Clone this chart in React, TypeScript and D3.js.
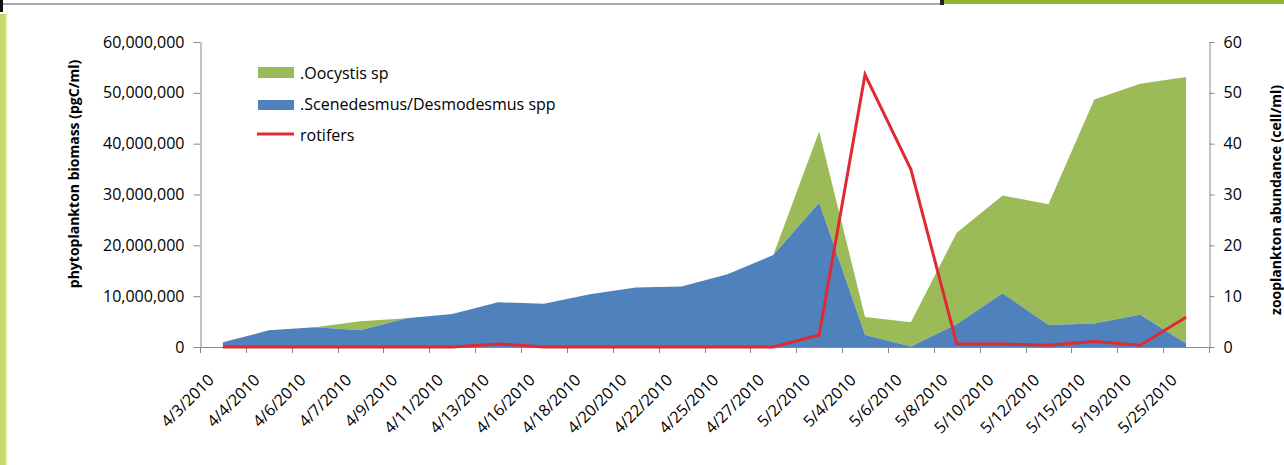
import React, { useEffect, useRef } from "react";
import * as d3 from "d3";

const dates = [
  "4/3/2010", "4/4/2010", "4/6/2010", "4/7/2010", "4/9/2010", "4/11/2010",
  "4/13/2010", "4/16/2010", "4/18/2010", "4/20/2010", "4/22/2010", "4/25/2010",
  "4/27/2010", "5/2/2010", "5/4/2010", "5/6/2010", "5/8/2010", "5/10/2010",
  "5/12/2010", "5/15/2010", "5/19/2010", "5/25/2010",
];
const scenedesmus = [
  0.92e6, 3.28e6, 3.87e6, 3.28e6, 5.64e6, 6.5e6, 8.8e6, 8.5e6, 10.4e6, 11.7e6, 11.9e6,
  14.3e6, 18.1e6, 28.4e6, 2.36e6, 0.1e6, 4.46e6, 10.55e6, 4.33e6, 4.6e6, 6.36e6, 0.7e6,
];
const oocystis = [
  0, 0, 0, 1.77e6, 0, 0, 0, 0, 0, 0, 0, 0, 0, 14.0e6, 3.54e6, 4.75e6, 18.04e6, 19.25e6,
  23.77e6, 44.1e6, 45.44e6, 52.4e6,
];
const rotifers = [
  0, 0, 0, 0, 0, 0, 0.6, 0, 0, 0, 0, 0, 0, 2.36, 53.6, 34.96, 0.6, 0.6, 0.33, 1.1, 0.33, 5.84,
];
const leftTicks = [0, 10e6, 20e6, 30e6, 40e6, 50e6, 60e6];
const rightTicks = [0, 10, 20, 30, 40, 50, 60];
const legendItems = [".Oocystis sp", ".Scenedesmus/Desmodesmus spp", "rotifers"];
const leftTitle = "phytoplankton biomass (pgC/ml)";
const rightTitle = "zooplankton abundance (cell/ml)";

const W = 1284;
const H = 465;
const FONT = "'Open Sans', 'DejaVu Sans', sans-serif";
const BLUE = "#4f81bd";
const GREEN = "#9bbb59";
const RED = "#e02a33";
const AXIS = "#898989";

export default function App() {
  const ref = useRef<SVGSVGElement | null>(null);

  useEffect(() => {
    const svg = d3.select(ref.current);
    svg.selectAll("*").remove();

    const left = 200, right = 1209, top = 42, bottom = 347;

    // slide decoration
    svg.append("rect").attr("x", 0).attr("y", 0).attr("width", W).attr("height", H).attr("fill", "#fff");
    svg.append("rect").attr("x", 0).attr("y", 3).attr("width", 940).attr("height", 2).attr("fill", "#a9a9a9");
    svg.append("rect").attr("x", 940).attr("y", 0).attr("width", 4).attr("height", 5).attr("fill", "#222");
    svg.append("rect").attr("x", 944).attr("y", 0).attr("width", W - 944).attr("height", 4).attr("fill", "#93b52a");
    svg.append("rect").attr("x", 0).attr("y", 0).attr("width", 3).attr("height", 12).attr("fill", "#111");
    svg.append("rect").attr("x", 0).attr("y", 14).attr("width", 7).attr("height", H - 14).attr("fill", "#c3d96a");
    svg.append("rect").attr("x", 5).attr("y", 14).attr("width", 2).attr("height", H - 14).attr("fill", "#dbe99a");

    const x = d3.scaleBand<string>().domain(dates).range([left, right]).paddingInner(0).paddingOuter(0);
    const bw = x.bandwidth();
    const cx = (d: string) => (x(d) as number) + bw / 2;
    const yL = d3.scaleLinear().domain([0, 60e6]).range([bottom, top]);
    const yR = d3.scaleLinear().domain([0, 60]).range([bottom, top]);

    const rows = dates.map((d, i) => ({ date: d, scenedesmus: scenedesmus[i], oocystis: oocystis[i] }));
    const stacked = d3.stack<any>().keys(["scenedesmus", "oocystis"])(rows);
    const area = d3
      .area<any>()
      .x((d) => cx(d.data.date))
      .y0((d) => yL(d[0]))
      .y1((d) => yL(d[1]));

    svg.append("path").attr("d", area(stacked[1] as any) as string).attr("fill", GREEN);
    svg.append("path").attr("d", area(stacked[0] as any) as string).attr("fill", BLUE);

    // x axis
    const gx = svg.append("g");
    gx.append("line").attr("x1", left).attr("x2", right).attr("y1", bottom + 0.5).attr("y2", bottom + 0.5).attr("stroke", AXIS);
    const bounds = dates.map((d) => x(d) as number).concat([right]);
    gx.selectAll("line.t")
      .data(bounds)
      .join("line")
      .attr("class", "t")
      .attr("x1", (d) => Math.round(d) + 0.5)
      .attr("x2", (d) => Math.round(d) + 0.5)
      .attr("y1", bottom)
      .attr("y2", bottom + 6)
      .attr("stroke", AXIS);
    gx.selectAll("text")
      .data(dates)
      .join("text")
      .attr("transform", (d) => `translate(${cx(d) - 8},${bottom + 34}) rotate(-45)`)
      .attr("text-anchor", "end")
      .attr("font-family", FONT)
      .attr("font-size", 16)
      .attr("fill", "#000")
      .text((d) => d);

    // rotifers line
    const line = d3
      .line<number>()
      .x((_, i) => cx(dates[i]))
      .y((v) => yR(v));
    svg.append("path").attr("d", line(rotifers) as string).attr("fill", "none").attr("stroke", RED).attr("stroke-width", 3).attr("stroke-linejoin", "miter");

    // left axis
    const gl = svg.append("g").attr("transform", `translate(${left + 0.5},0)`);
    gl.call(
      d3.axisLeft(yL).tickValues(leftTicks).tickSize(7).tickSizeOuter(0).tickPadding(9).tickFormat((d) => d3.format(",")(d as number))
    );
    gl.select(".domain").attr("stroke", AXIS);
    gl.selectAll(".tick line").attr("stroke", AXIS);
    gl.selectAll(".tick text").attr("font-family", FONT).attr("font-size", 16).attr("fill", "#000");

    // right axis
    const gr = svg.append("g").attr("transform", `translate(${right + 0.5},0)`);
    gr.call(d3.axisRight(yR).tickValues(rightTicks).tickSize(5).tickSizeOuter(0).tickPadding(9));
    gr.select(".domain").attr("stroke", AXIS);
    gr.selectAll(".tick line").attr("stroke", AXIS);
    gr.selectAll(".tick text").attr("font-family", FONT).attr("font-size", 16).attr("fill", "#000");

    // axis titles
    svg.append("text")
      .attr("transform", `translate(79,174) rotate(-90)`)
      .attr("text-anchor", "middle")
      .attr("font-family", FONT)
      .attr("font-weight", "bold")
      .attr("font-size", 14)
      .text(leftTitle);
    svg.append("text")
      .attr("transform", `translate(1281,200) rotate(-90)`)
      .attr("text-anchor", "middle")
      .attr("font-family", FONT)
      .attr("font-weight", "bold")
      .attr("font-size", 14)
      .text(rightTitle);

    // legend
    const lg = svg.append("g");
    const ly = [79, 110, 141];
    lg.append("rect").attr("x", 258).attr("y", ly[0] - 12).attr("width", 36).attr("height", 11).attr("fill", GREEN);
    lg.append("rect").attr("x", 258).attr("y", ly[1] - 10).attr("width", 36).attr("height", 10).attr("fill", BLUE);
    lg.append("line").attr("x1", 257).attr("x2", 294).attr("y1", ly[2] - 7).attr("y2", ly[2] - 7).attr("stroke", RED).attr("stroke-width", 3);
    lg.selectAll("text")
      .data(legendItems)
      .join("text")
      .attr("x", 300)
      .attr("y", (_, i) => ly[i])
      .attr("font-family", FONT)
      .attr("font-size", 16)
      .attr("fill", "#000")
      .text((d) => d);
  }, []);

  return (
    <svg
      ref={ref}
      width={W}
      height={H}
      style={{ position: "absolute", left: 0, top: 0, display: "block" }}
    />
  );
}
